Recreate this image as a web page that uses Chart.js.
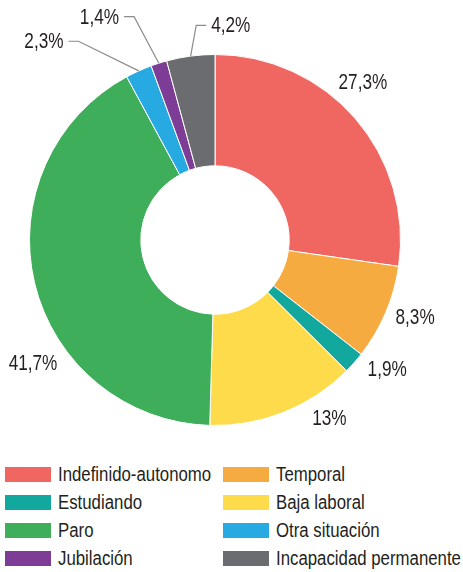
<!DOCTYPE html>
<html>
<head>
<meta charset="utf-8">
<script src="https://cdn.jsdelivr.net/npm/chart.js@4.4.1/dist/chart.umd.min.js"></script>
<style>
  html, body { margin: 0; padding: 0; background: #fff; }
  body { width: 463px; height: 572px; position: relative; overflow: hidden;
         font-family: "Liberation Sans", Arial, sans-serif; color: #231f20; }
  #wrap { position: absolute; left: 0; top: 0; width: 463px; height: 450px; }
  #legend { position: absolute; left: 0; top: 460px; width: 463px; }
  .item { position: absolute; height: 28px; display: flex; align-items: center; font-size: 20px; white-space: nowrap; }
  .item .box { display: inline-block; width: 46px; height: 15px; margin-right: 7px; }
  .item .txt { display: inline-block; transform: scaleX(0.84); transform-origin: left center; }
</style>
</head>
<body>
<div id="wrap"><canvas id="myChart" width="463" height="450"></canvas></div>
<div id="legend"></div>
<script>
const categories = ['Indefinido-autonomo', 'Temporal', 'Estudiando', 'Baja laboral', 'Paro', 'Otra situación', 'Jubilación', 'Incapacidad permanente'];
const values = [27.3, 8.3, 1.9, 13, 41.7, 2.3, 1.4, 4.2];
const colors = ['#f06762', '#f6ab40', '#13a89e', '#fedb4a', '#3eae5a', '#27a9e1', '#7d3c96', '#6b6c70'];

// label placement: angle shift (deg) from slice middle and distance beyond the outer edge
const labelLayout = [
    { shift: -6, dist: 31 },
    { shift: -2, dist: 29 },
    { shift: -4.5, dist: 30 },
    { shift: -11, dist: 26 },
    { shift: -20.6, dist: 34 },
    { leader: true, shift: -10.2, dist: 55.6, dir: -1 },
    { leader: true, shift: -2.3, dist: 52, dir: -1 },
    { leader: true, shift: 2.55, dist: 30, dir: 1 }
];

function fmt(v){
    return String(v).replace('.', ',') + '%';
}

// narrow text by squeezing horizontally (no condensed font installed)
function narrowText(ctx, text, x, y){
    ctx.save();
    ctx.translate(x, y);
    ctx.scale(0.8, 1);
    ctx.fillText(text, 0, 0);
    ctx.restore();
}

const labelPlugin = {
    id: 'sliceLabels',
    afterDatasetsDraw(chart){
        const ctx = chart.ctx;
        const meta = chart.getDatasetMeta(0);
        ctx.save();
        ctx.font = '21.5px "Liberation Sans", Arial, sans-serif';
        ctx.fillStyle = '#231f20';
        ctx.textBaseline = 'middle';
        meta.data.forEach((arc, i) => {
            const p = arc.getProps(['x', 'y', 'startAngle', 'endAngle', 'outerRadius'], true);
            const mid = (p.startAngle + p.endAngle) / 2;
            const lay = labelLayout[i];
            const a = mid + lay.shift * Math.PI / 180;
            const r = p.outerRadius + lay.dist;
            const text = fmt(values[i]);
            if(!lay.leader){
                ctx.textAlign = 'center';
                narrowText(ctx, text, p.x + r * Math.cos(a), p.y + r * Math.sin(a) + 1);
            }else{
                const sx = p.x + p.outerRadius * Math.cos(mid), sy = p.y + p.outerRadius * Math.sin(mid);
                const ex = p.x + r * Math.cos(a), ey = p.y + r * Math.sin(a);
                const tx = ex + lay.dir * 10;
                ctx.strokeStyle = '#8c8c8c';
                ctx.lineWidth = 1.2;
                ctx.beginPath();
                ctx.moveTo(sx, sy);
                ctx.lineTo(ex, ey);
                ctx.lineTo(tx, ey);
                ctx.stroke();
                ctx.textAlign = lay.dir < 0 ? 'right' : 'left';
                narrowText(ctx, text, tx + lay.dir * 5, ey + 1);
            }
        });
        ctx.restore();
    }
};

new Chart(document.getElementById('myChart'), {
    type: 'doughnut',
    data: {
        labels: categories,
        datasets: [{
            data: values,
            backgroundColor: colors,
            borderColor: '#ffffff',
            borderWidth: 1
        }]
    },
    options: {
        responsive: false,
        animation: false,
        cutout: '40%',
        layout: { padding: { left: 29, right: 62, top: 54, bottom: 24 } },
        plugins: {
            legend: { display: false },
            tooltip: { enabled: false }
        }
    },
    plugins: [labelPlugin]
});

// legend in two columns
let legend = document.getElementById('legend');
categories.forEach((c, i) => {
    let div = document.createElement('div');
    div.className = 'item';
    div.style.left = (i % 2 ? 223 : 5) + 'px';
    div.style.top = (Math.floor(i / 2) * 28.3) + 'px';
    let box = document.createElement('span');
    box.className = 'box';
    box.style.background = colors[i];
    let txt = document.createElement('span');
    txt.className = 'txt';
    txt.innerText = c;
    div.appendChild(box);
    div.appendChild(txt);
    legend.appendChild(div);
});
</script>
</body>
</html>
